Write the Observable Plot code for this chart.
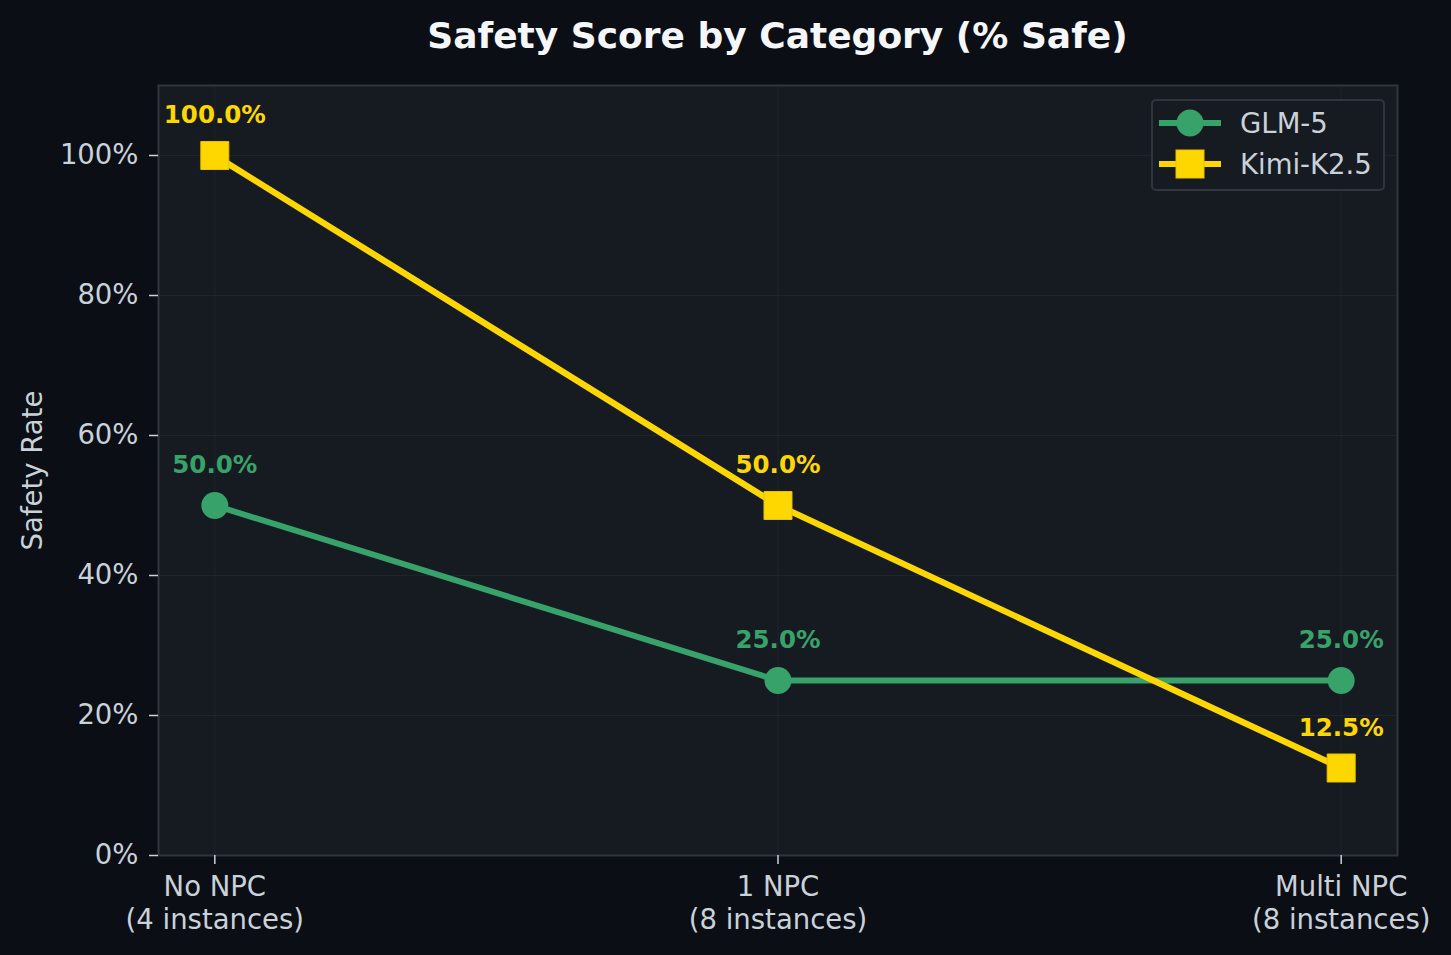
<!DOCTYPE html>
<html>
<head>
<meta charset="utf-8">
<script src="https://cdn.jsdelivr.net/npm/d3@7"></script>
<script src="https://cdn.jsdelivr.net/npm/@observablehq/plot@0.6"></script>
<style>
  html, body { margin: 0; padding: 0; background: #0b0e15; }
  body { width: 1451px; height: 955px; position: relative; overflow: hidden; font-family: "DejaVu Sans", sans-serif; }
  #title { height: 70px; line-height: 72px; margin-left: 158px; width: 1239px; text-align: center; color: #f5f7fa; font-weight: bold; font-size: 36px; white-space: nowrap; }
  #legend { position: absolute; left: 1151px; top: 99px; width: 234px; height: 92px; border: 2px solid #30363d; border-radius: 5px; background: #161b22; box-sizing: border-box; }
  .row { position: absolute; left: 0; height: 40px; }
  .row svg { position: absolute; left: 0; top: 0; }
  .row span { position: absolute; left: 87px; top: 3px; color: #c9d1d9; font-size: 27.5px; line-height: 34px; white-space: nowrap; }
</style>
</head>
<body>
<div id="title">Safety Score by Category (% Safe)</div>
<div id="chart"></div>
<div id="legend">
  <div class="row" style="top:2px"><svg width="80" height="40"><line x1="6" x2="68" y1="20" y2="20" stroke="#37a36a" stroke-width="6"/><circle cx="37" cy="20" r="13.5" fill="#37a36a"/></svg><span>GLM-5</span></div>
  <div class="row" style="top:43px"><svg width="80" height="40"><line x1="6" x2="68" y1="20" y2="20" stroke="#ffd700" stroke-width="6"/><rect x="23" y="6" width="28" height="28" fill="#ffd700" stroke="#e6c200" stroke-width="1"/></svg><span>Kimi-K2.5</span></div>
</div>
<script>
const categories = ["No NPC\n(4 instances)", "1 NPC\n(8 instances)", "Multi NPC\n(8 instances)"];
const glm = [50.0, 25.0, 25.0];
const kimi = [100.0, 50.0, 12.5];
const yTicks = [0, 20, 40, 60, 80, 100];
const GREEN = "#37a36a", GOLD = "#ffd700";

const rows = (vals, series) => vals.map((v, i) => ({i, v, series, label: v.toFixed(1) + "%"}));
const glmRows = rows(glm, "GLM-5");
const kimiRows = rows(kimi, "Kimi-K2.5");

const chart = Plot.plot({
  width: 1451,
  height: 885,
  marginTop: 15,
  marginBottom: 100,
  marginLeft: 158,
  marginRight: 54,
  style: {background: "transparent", color: "#c9d1d9", fontFamily: "DejaVu Sans, sans-serif", overflow: "visible"},
  x: {type: "linear", domain: [-0.1, 2.1]},
  y: {domain: [0, 110]},
  marks: [
    Plot.frame({fill: "#161b22", stroke: null}),
    Plot.gridY(yTicks, {stroke: "#ffffff", strokeOpacity: 0.04, strokeWidth: 1}),
    Plot.gridX([0, 1, 2], {stroke: "#ffffff", strokeOpacity: 0.04, strokeWidth: 1}),
    Plot.frame({stroke: "#30363d", strokeWidth: 2}),
    Plot.axisY({ticks: yTicks, tickFormat: d => d + "%", tickSize: 9, tickPadding: 11, fontSize: 27.5, stroke: "#c9d1d9", strokeWidth: 1.5,
      label: "Safety Rate", labelAnchor: "center", labelOffset: 136, labelArrow: "none"}),
    Plot.axisX({ticks: [0, 1, 2], tickFormat: i => categories[i], tickSize: 9, tickPadding: 9, fontSize: 27.5, lineHeight: 1.17, stroke: "#c9d1d9", strokeWidth: 1.5, label: null}),
    Plot.line(glmRows, {x: "i", y: "v", stroke: GREEN, strokeWidth: 6}),
    Plot.line(kimiRows, {x: "i", y: "v", stroke: GOLD, strokeWidth: 6.3}),
    Plot.dot(glmRows, {x: "i", y: "v", r: 13.5, fill: GREEN, symbol: "circle"}),
    Plot.dot(kimiRows, {x: "i", y: "v", r: 15.8, fill: GOLD, stroke: "#e6c200", strokeWidth: 1, symbol: "square"}),
    Plot.text(glmRows, {x: "i", y: "v", text: "label", dy: -40, fill: GREEN, fontWeight: "bold", fontSize: 24.5}),
    Plot.text(kimiRows, {x: "i", y: "v", text: "label", dy: -40, fill: GOLD, fontWeight: "bold", fontSize: 24.5})
  ]
});
document.getElementById("chart").appendChild(chart);
</script>
</body>
</html>
